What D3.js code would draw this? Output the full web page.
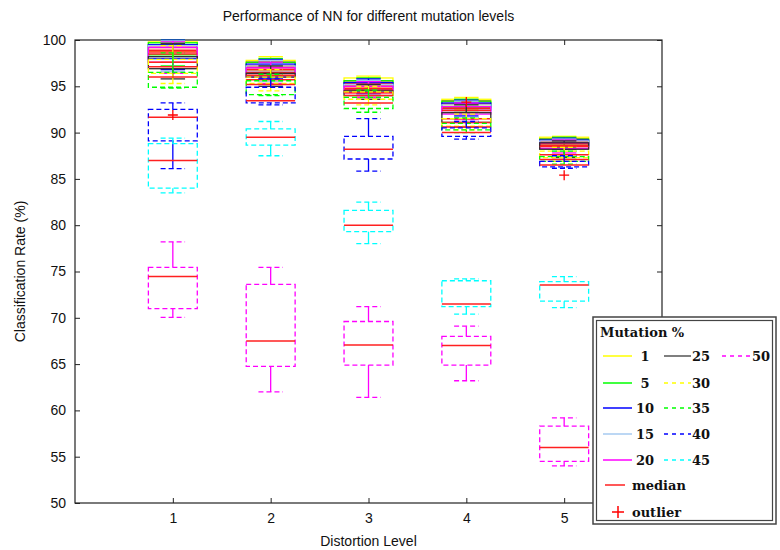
<!DOCTYPE html>
<html>
<head>
<meta charset="utf-8">
<script src="https://cdn.jsdelivr.net/npm/d3@7"></script>
<style>
  body { margin: 0; background: #fff; }
  svg { display: block; }
</style>
</head>
<body>
<div id="chart"></div>
<script>
// Categories
const levels = [1, 2, 3, 4, 5];
const mutations = [1, 5, 10, 15, 20, 25, 30, 35, 40, 45, 50];
const yTicks = [50, 55, 60, 65, 70, 75, 80, 85, 90, 95, 100];

// Box statistics, one row per mutation level, one column per distortion level
const whiskerLow = [
    [97.6, 96.5, 94.8, 92.5, 88.6],
    [97.2, 96.2, 94.5, 92.2, 88.4],
    [96.8, 95.8, 94.2, 91.8, 88.2],
    [96.6, 95.5, 94.0, 91.6, 88.0],
    [96.4, 95.3, 93.8, 91.4, 87.8],
    [95.8, 95.0, 93.6, 90.6, 87.3],
    [95.3, 94.5, 93.0, 90.3, 86.9],
    [94.8, 94.0, 92.2, 90.0, 86.6],
    [86.1, 93.0, 85.85, 89.3, 86.15],
    [83.5, 87.5, 78.0, 70.4, 71.1],
    [70.05, 62.0, 61.4, 63.2, 54.0]
];
const quart1 = [
    [98.8, 97.2, 95.3, 93.0, 89.0],
    [98.4, 96.8, 95.0, 92.7, 88.8],
    [98.0, 96.5, 94.7, 92.4, 88.6],
    [97.9, 96.2, 94.5, 92.2, 88.5],
    [97.6, 96.0, 94.3, 92.0, 88.3],
    [96.9, 96.0, 94.0, 91.1, 88.2],
    [96.4, 95.3, 93.6, 90.7, 87.3],
    [94.9, 94.1, 92.6, 90.3, 86.9],
    [89.1, 93.2, 87.15, 89.6, 86.3],
    [84.0, 88.65, 79.3, 71.2, 71.8],
    [71.0, 64.75, 64.9, 64.9, 54.5]
];
const medians = [
    [99.4, 97.6, 95.6, 93.4, 89.3],
    [99.2, 97.2, 95.3, 93.1, 89.1],
    [98.9, 97.0, 95.0, 92.8, 88.9],
    [98.7, 96.8, 94.8, 92.6, 88.8],
    [98.5, 96.5, 94.6, 92.4, 88.6],
    [97.6, 96.2, 94.3, 91.5, 88.5],
    [97.1, 95.7, 94.0, 91.1, 87.6],
    [96.0, 95.2, 93.2, 90.6, 87.1],
    [91.65, 93.45, 88.2, 90.0, 86.5],
    [87.0, 89.5, 80.0, 71.5, 73.55],
    [74.45, 67.5, 67.05, 67.0, 56.0]
];
const quart3 = [
    [99.8, 97.8, 95.9, 93.6, 89.5],
    [99.7, 97.6, 95.6, 93.4, 89.3],
    [99.5, 97.4, 95.4, 93.2, 89.2],
    [99.4, 97.2, 95.2, 93.0, 89.1],
    [99.2, 97.0, 95.0, 92.8, 88.9],
    [98.2, 96.4, 94.5, 92.15, 88.9],
    [97.9, 96.0, 94.4, 91.5, 88.0],
    [96.5, 95.6, 93.8, 91.0, 87.4],
    [92.5, 94.9, 89.6, 90.5, 86.9],
    [88.8, 90.4, 81.6, 74.0, 73.9],
    [75.45, 73.6, 69.6, 68.0, 58.3]
];
const whiskerHigh = [
    [100, 98.2, 96.1, 93.8, 89.6],
    [100, 98.0, 95.9, 93.6, 89.5],
    [100, 97.9, 95.8, 93.5, 89.4],
    [99.9, 97.8, 95.6, 93.4, 89.3],
    [99.8, 97.6, 95.5, 93.2, 89.2],
    [99.6, 97.2, 95.2, 93.0, 89.1],
    [99.4, 96.8, 95.0, 92.0, 88.4],
    [98.6, 96.3, 94.6, 91.6, 88.0],
    [93.2, 95.8, 91.5, 91.2, 87.5],
    [89.4, 91.2, 82.5, 74.2, 74.45],
    [78.2, 75.45, 71.2, 69.1, 59.2]
];

// Outliers
const outlierLevel = [1, 4, 5];
const outlierValue = [91.9, 93.3, 85.4];

// Series styles
const seriesColors = ["#ffff00", "#00ff00", "#0000ff", "#a6caf0", "#ff00ff",
    "#303030", "#ffff00", "#00ff00", "#0000ff", "#00ffff", "#ff00ff"];
const legendColors = ["#ffff00", "#00ff00", "#0000ff", "#a6caf0", "#ff00ff",
    "#555555", "#ffff00", "#00ff00", "#0000ff", "#00ffff", "#ff00ff"];
const isDashed = m => m >= 30;

const width = 780;
const height = 550;
const margin = {left: 75, right: 118, top: 40, bottom: 47};
const boxWidth = 0.5;
const capWidth = 0.25;
const dash = "5,3";

const svg = d3.select("#chart")
    .append("svg")
    .attr("width", width)
    .attr("height", height)
    .style("font-family", "Arial, 'Liberation Sans', sans-serif");

const x = d3.scaleLinear()
    .domain([0, 6])
    .range([margin.left, width - margin.right]);

const y = d3.scaleLinear()
    .domain([50, 100])
    .range([height - margin.bottom, margin.top]);

// Axes with inward ticks on all four sides
const x0 = x.range()[0], x1 = x.range()[1];
const y0 = y.range()[0], y1 = y.range()[1];

svg.append("rect")
    .attr("x", x0).attr("y", y1)
    .attr("width", x1 - x0).attr("height", y0 - y1)
    .attr("fill", "none")
    .attr("stroke", "#222")
    .attr("stroke-width", 1.2);

svg.append("g")
    .attr("transform", `translate(${x0},0)`)
    .call(d3.axisLeft(y).tickValues(yTicks).tickSizeInner(-5).tickSizeOuter(0).tickPadding(9))
    .call(g => g.select(".domain").remove())
    .call(g => g.selectAll("text").attr("font-size", 14).attr("fill", "#111").attr("font-family", "Arial, 'Liberation Sans', sans-serif"));

svg.append("g")
    .attr("transform", `translate(${x1},0)`)
    .call(d3.axisRight(y).tickValues(yTicks).tickSizeInner(-5).tickSizeOuter(0).tickFormat(""))
    .call(g => g.select(".domain").remove());

svg.append("g")
    .attr("transform", `translate(0,${y0})`)
    .call(d3.axisBottom(x).tickValues(levels).tickFormat(d3.format("d")).tickSizeInner(-5).tickSizeOuter(0).tickPadding(10))
    .call(g => g.select(".domain").remove())
    .call(g => g.selectAll("text").attr("font-size", 14).attr("fill", "#111").attr("font-family", "Arial, 'Liberation Sans', sans-serif"));

svg.append("g")
    .attr("transform", `translate(0,${y1})`)
    .call(d3.axisTop(x).tickValues(levels).tickSizeInner(-5).tickSizeOuter(0).tickFormat(""))
    .call(g => g.select(".domain").remove());

svg.selectAll(".tick line").attr("stroke", "#222");

// Titles
svg.append("text")
    .attr("x", (x0 + x1) / 2)
    .attr("y", 21)
    .attr("text-anchor", "middle")
    .attr("font-size", 14)
    .attr("fill", "#111")
    .text("Performance of NN for different mutation levels");

svg.append("text")
    .attr("x", (x0 + x1) / 2)
    .attr("y", 546)
    .attr("text-anchor", "middle")
    .attr("font-size", 14)
    .attr("fill", "#111")
    .text("Distortion Level");

svg.append("text")
    .attr("transform", `translate(25,${(y0 + y1) / 2}) rotate(-90)`)
    .attr("text-anchor", "middle")
    .attr("font-size", 14)
    .attr("fill", "#111")
    .text("Classification Rate (%)");

// Boxes, one group per mutation level, drawn in order
const plot = svg.append("g").attr("id", "boxes");

mutations.forEach((m, i) => {
    const color = seriesColors[i];
    const dashArr = isDashed(m) ? dash : null;
    const g = plot.append("g");
    levels.forEach((lv, j) => {
        const lo = whiskerLow[i][j], q1 = quart1[i][j], med = medians[i][j];
        const q3 = quart3[i][j], hi = whiskerHigh[i][j];

        // Whiskers (solid)
        g.append("line")
            .attr("x1", x(lv)).attr("x2", x(lv))
            .attr("y1", y(q3)).attr("y2", y(hi))
            .attr("stroke", color).attr("stroke-width", 1.3);
        g.append("line")
            .attr("x1", x(lv)).attr("x2", x(lv))
            .attr("y1", y(q1)).attr("y2", y(lo))
            .attr("stroke", color).attr("stroke-width", 1.3);

        // Whisker caps
        [lo, hi].forEach(v => {
            g.append("line")
                .attr("x1", x(lv - capWidth / 2)).attr("x2", x(lv + capWidth / 2))
                .attr("y1", y(v)).attr("y2", y(v))
                .attr("stroke", color).attr("stroke-width", 1.3)
                .attr("stroke-dasharray", dashArr);
        });

        // Box
        g.append("rect")
            .attr("x", x(lv - boxWidth / 2))
            .attr("y", y(q3))
            .attr("width", x(lv + boxWidth / 2) - x(lv - boxWidth / 2))
            .attr("height", y(q1) - y(q3))
            .attr("fill", "none")
            .attr("stroke", color).attr("stroke-width", 1.3)
            .attr("stroke-dasharray", dashArr);

        // Median
        g.append("line")
            .attr("x1", x(lv - boxWidth / 2)).attr("x2", x(lv + boxWidth / 2))
            .attr("y1", y(med)).attr("y2", y(med))
            .attr("stroke", "#ff2020").attr("stroke-width", 1.5);
    });
});

// Outliers as red plus signs
outlierLevel.forEach((lv, k) => {
    const cx = x(lv), cy = y(outlierValue[k]);
    plot.append("path")
        .attr("d", `M${cx - 5},${cy}H${cx + 5}M${cx},${cy - 5}V${cy + 5}`)
        .attr("stroke", "#ff0000").attr("stroke-width", 1.3)
        .attr("fill", "none");
});

// Legend
const legend = svg.append("g").attr("id", "legend");
const lg = {x: 593, y: 317, w: 183, h: 207};
legend.append("rect")
    .attr("x", lg.x).attr("y", lg.y).attr("width", lg.w).attr("height", lg.h)
    .attr("fill", "#fff").attr("stroke", "#444").attr("stroke-width", 1.5);
legend.append("rect")
    .attr("x", lg.x + 3.5).attr("y", lg.y + 3.5).attr("width", lg.w - 7).attr("height", lg.h - 7)
    .attr("fill", "none").attr("stroke", "#444").attr("stroke-width", 1.2);

const legendFont = "'DejaVu Serif', 'Liberation Serif', serif";
legend.append("text")
    .attr("x", 600).attr("y", 337)
    .attr("font-family", legendFont).attr("font-weight", "bold").attr("font-size", 13)
    .attr("fill", "#111")
    .text("Mutation %");

const rowY = [356, 383, 408, 434, 460, 485, 512];
const columns = [
    {lineX: [603, 632], textX: 645, anchor: "middle"},
    {lineX: [664, 691], textX: 692, anchor: "start"},
    {lineX: [722, 751], textX: 752, anchor: "start"}
];

mutations.forEach((m, i) => {
    const col = columns[Math.floor(i / 5)];
    const ry = rowY[i % 5];
    legend.append("line")
        .attr("x1", col.lineX[0]).attr("x2", col.lineX[1])
        .attr("y1", ry).attr("y2", ry)
        .attr("stroke", legendColors[i]).attr("stroke-width", 1.5)
        .attr("stroke-dasharray", isDashed(m) ? "4,4" : null);
    legend.append("text")
        .attr("x", col.textX).attr("y", ry + 5)
        .attr("text-anchor", col.anchor)
        .attr("font-family", legendFont).attr("font-weight", "bold").attr("font-size", 13)
        .attr("fill", "#111")
        .text(m);
});

legend.append("line")
    .attr("x1", 605).attr("x2", 625)
    .attr("y1", rowY[5]).attr("y2", rowY[5])
    .attr("stroke", "#ff2020").attr("stroke-width", 1.5);
legend.append("text")
    .attr("x", 632).attr("y", rowY[5] + 5)
    .attr("font-family", legendFont).attr("font-weight", "bold").attr("font-size", 13)
    .attr("fill", "#111")
    .text("median");

legend.append("path")
    .attr("d", `M612,${rowY[6]}H624M618,${rowY[6] - 6}V${rowY[6] + 6}`)
    .attr("stroke", "#ff0000").attr("stroke-width", 1.5);
legend.append("text")
    .attr("x", 632).attr("y", rowY[6] + 5)
    .attr("font-family", legendFont).attr("font-weight", "bold").attr("font-size", 13)
    .attr("fill", "#111")
    .text("outlier");
</script>
</body>
</html>
